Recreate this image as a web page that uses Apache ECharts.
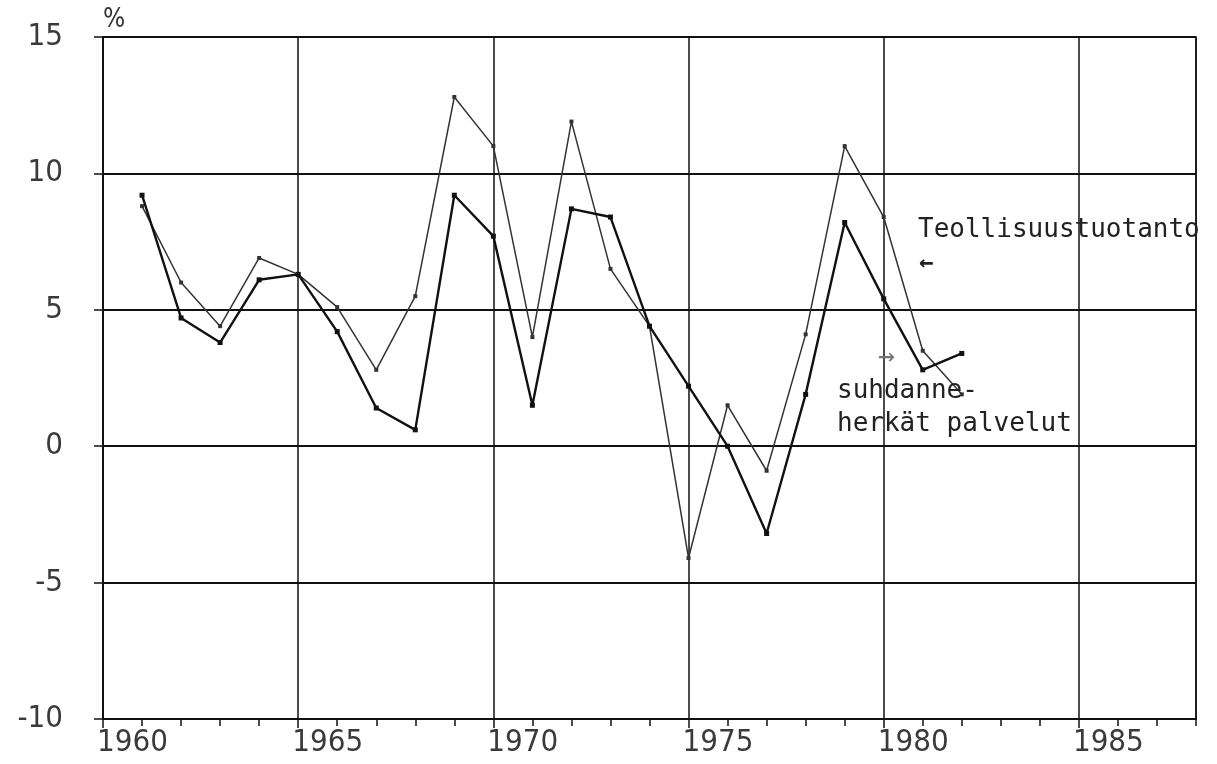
<!DOCTYPE html>
<html>
<head>
<meta charset="utf-8">
<script src="https://cdn.jsdelivr.net/npm/echarts@6/dist/echarts.min.js"></script>
<style>
    html, body { margin: 0; padding: 0; background: #fff; }
    #chart { width: 1217px; height: 764px; }
</style>
</head>
<body>
<div id="chart"></div>
<script>
// vuosimuutos, %
var years = [1961, 1962, 1963, 1964, 1965, 1966, 1967, 1968, 1969, 1970, 1971,
    1972, 1973, 1974, 1975, 1976, 1977, 1978, 1979, 1980, 1981, 1982];
var teollisuus = [8.8, 6.0, 4.4, 6.9, 6.3, 5.1, 2.8, 5.5, 12.8, 11.0, 4.0,
    11.9, 6.5, 4.4, -4.1, 1.5, -0.9, 4.1, 11.0, 8.4, 3.5, 1.9];
var palvelut = [9.2, 4.7, 3.8, 6.1, 6.3, 4.2, 1.4, 0.6, 9.2, 7.7, 1.5,
    8.7, 8.4, 4.4, 2.2, 0.0, -3.2, 1.9, 8.2, 5.4, 2.8, 3.4];
var yTicks = [-10, -5, 0, 5, 10, 15];

function pairs(xs, ys) {
    var res = [];
    for (var i = 0; i < xs.length; i++) {
        res.push([xs[i], ys[i]]);
    }
    return res;
}

var tickFont = '"Liberation Sans Narrow", "DejaVu Sans Condensed", sans-serif';
var monoFont = '"DejaVu Sans Mono", "Liberation Mono", monospace';

var chart = echarts.init(document.getElementById('chart'));
var option = {
    backgroundColor: '#fff',
    animation: false,
    grid: {
        left: 103,
        right: 21,
        top: 37,
        bottom: 45,
        show: true,
        borderColor: '#111',
        borderWidth: 1.5
    },
    xAxis: [
        {
            type: 'value',
            min: 1960,
            max: 1988,
            interval: 5,
            axisLine: { show: true, onZero: false, lineStyle: { color: '#111', width: 2 } },
            axisTick: { show: true, length: 9, lineStyle: { color: '#111', width: 1.5 } },
            splitLine: { show: true, lineStyle: { color: '#111', width: 1.5 } },
            axisLabel: {
                margin: 8,
                align: 'left',
                padding: [0, 0, 0, -6],
                fontFamily: tickFont,
                fontSize: 31,
                color: '#3a3a3a',
                showMaxLabel: false,
                formatter: function (v) {
                    return v % 5 === 0 ? String(v) : '';
                }
            }
        },
        {
            // vuosittaiset pikkutikit
            type: 'value',
            min: 1960,
            max: 1988,
            interval: 1,
            position: 'bottom',
            axisLine: { show: false, onZero: false },
            axisTick: { show: true, length: 7, lineStyle: { color: '#111', width: 1.5 } },
            splitLine: { show: false },
            axisLabel: { show: false }
        }
    ],
    yAxis: {
        type: 'value',
        min: yTicks[0],
        max: yTicks[yTicks.length - 1],
        interval: 5,
        name: '%',
        nameLocation: 'end',
        nameGap: 4,
        nameTextStyle: {
            align: 'left',
            verticalAlign: 'bottom',
            fontFamily: tickFont,
            fontSize: 26,
            color: '#333'
        },
        axisLine: { show: true, onZero: false, lineStyle: { color: '#111', width: 2 } },
        axisTick: { show: true, length: 9, lineStyle: { color: '#111', width: 1.5 } },
        splitLine: { show: true, lineStyle: { color: '#111', width: 2 } },
        axisLabel: {
            margin: 40,
            fontFamily: tickFont,
            fontSize: 31,
            color: '#3a3a3a',
            formatter: function (v) {
                return String(v).replace('\u2212', '-');
            }
        }
    },
    series: [
        {
            name: 'Teollisuustuotanto',
            type: 'line',
            data: pairs(years, teollisuus),
            symbol: 'rect',
            symbolSize: 4,
            itemStyle: { color: '#333' },
            lineStyle: { color: '#333', width: 1.5 },
            z: 3
        },
        {
            name: 'suhdanneherkät palvelut',
            type: 'line',
            data: pairs(years, palvelut),
            symbol: 'rect',
            symbolSize: 5,
            itemStyle: { color: '#111' },
            lineStyle: { color: '#111', width: 2.4 },
            z: 4
        }
    ],
    graphic: [
        {
            type: 'text', left: 918, top: 217, z: 10,
            style: { text: 'Teollisuustuotanto', font: '26px ' + monoFont, fill: '#222' }
        },
        {
            type: 'text', left: 919, top: 252, z: 10,
            style: { text: '\u2190', font: 'bold 24px ' + monoFont, fill: '#222' }
        },
        {
            type: 'text', left: 878, top: 344, z: 10,
            style: { text: '\u2192', font: '28px ' + monoFont, fill: '#777' }
        },
        {
            type: 'text', left: 837, top: 378, z: 10,
            style: { text: 'suhdanne-', font: '26px ' + monoFont, fill: '#222' }
        },
        {
            type: 'text', left: 837, top: 411, z: 10,
            style: { text: 'herkät palvelut', font: '26px ' + monoFont, fill: '#222' }
        }
    ]
};
chart.setOption(option);
</script>
</body>
</html>
